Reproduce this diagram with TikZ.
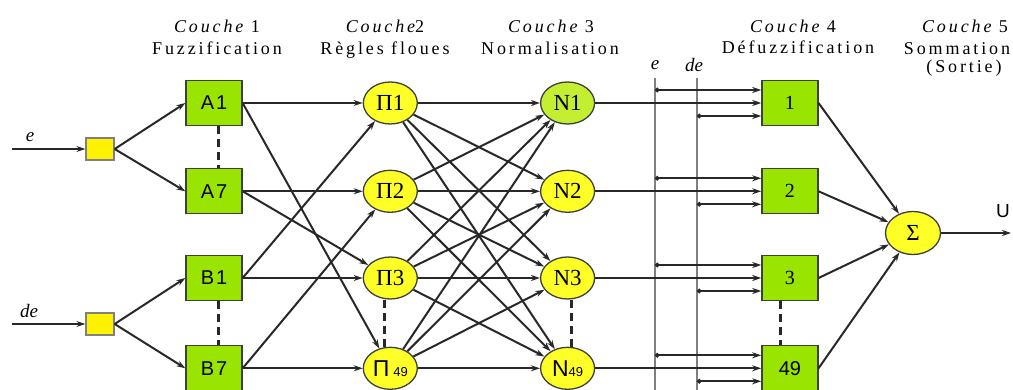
\documentclass[tikz,border=0pt]{standalone}
\usepackage{fontspec}
\setmainfont{Liberation Serif}
\setsansfont{Liberation Sans}
\newfontfamily\headfont{Liberation Serif}[LetterSpace=16]
\newfontfamily\boxfont{Liberation Sans}[LetterSpace=10]
\usetikzlibrary{arrows.meta, positioning, shapes.geometric, calc}

\definecolor{limebox}{RGB}{153,228,0}
\definecolor{rulefill}{RGB}{255,255,40}
\definecolor{normfill}{RGB}{196,238,50}
\definecolor{edgegray}{RGB}{60,65,60}
\definecolor{wiregray}{RGB}{40,40,40}

\begin{document}
\begin{tikzpicture}[
    x=1pt, y=-1pt,
    >={Stealth[length=9pt,width=6pt]},
    wire/.style={->, line width=2pt, draw=wiregray},
    fuzbox/.style={draw=edgegray, line width=1.3pt, fill=limebox,
                   minimum width=56pt, minimum height=45pt, inner sep=0pt,
                   font=\fontsize{20}{22}\boxfont},
    rulenode/.style={ellipse, draw=edgegray, line width=1.3pt, fill=rulefill,
                     minimum width=54pt, minimum height=42pt, inner sep=0pt,
                     font=\fontsize{23}{24}\selectfont},
    inbox/.style={draw=gray, line width=1.3pt, fill=yellow,
                  minimum width=28pt, minimum height=22pt, inner sep=0pt},
    dots/.style={line width=3pt, draw=wiregray, dash pattern=on 8pt off 5pt},
    head/.style={anchor=base, inner sep=0pt, font=\fontsize{18}{21}\headfont},
    lab/.style={inner sep=0pt, font=\fontsize{19}{20}\itshape},
    tap/.style={{Circle[length=4.5pt]}->, line width=2pt, draw=wiregray},
    rail/.style={line width=1.5pt, draw=gray}
  ]
  \useasboundingbox (0,0) rectangle (1013,390);

  % layer titles
  \node[head] (c1) at (217,33) {{\itshape Couche} 1};
  \node[head] (t1) at (217,55) {Fuzzification};
  \node[head] (c2) at (385,33) {{\itshape Couche}2};
  \node[head] (t2) at (385,55) {Règles floues};
  \node[head] (c3) at (551,33) {{\itshape Couche} 3};
  \node[head] (t3) at (550,55) {Normalisation};
  \node[head] (c4) at (793,33) {{\itshape Couche} 4};
  \node[head] (t4) at (798,54) {Défuzzification};
  \node[head] (c5) at (965,33) {{\itshape Couche} 5};
  \node[head] (t5) at (957,55) {Sommation};
  \node[head] (t5b) at (964,73) {(Sortie)};

  % inputs
  \coordinate (ein) at (12,149);
  \coordinate (dein) at (12,324);
  \node[inbox] (qe) at (100,149) {};
  \node[inbox] (qde) at (100,324) {};
  \node[lab] (le) at (30,137) {e};
  \node[lab] (lde) at (29,311) {de};

  % layer 1
  \node[fuzbox] (A1) at (214,103) {A1};
  \node[fuzbox, below=42pt of A1] (A7) {A7};
  \node[fuzbox] (B1) at (214,278) {B1};
  \node[fuzbox, below=44pt of B1] (B7) {B7};

  % layer 2
  \node[rulenode, right=120pt of A1] (P1) {Π1};
  \node[rulenode, right=120pt of A7] (P2) {Π2};
  \node[rulenode, right=120pt of B1] (P3) {Π3};
  \node[rulenode, right=120pt of B7] (P49) {{\sffamily Π}\,{\fontsize{13}{13}\sffamily 49}};

  % layer 3
  \node[rulenode, fill=normfill, right=122pt of P1] (N1) {N1};
  \node[rulenode, right=122pt of P2] (N2) {N2};
  \node[rulenode, right=122pt of P3] (N3) {N3};
  \node[rulenode, right=122pt of P49] (N49) {{\sffamily N}{\fontsize{13}{13}\sffamily 49}};

  % layer 4
  \node[fuzbox, right=166pt of N1, font=\fontsize{20}{22}\rmfamily] (D1) {1};
  \node[fuzbox, right=166pt of N2, font=\fontsize{20}{22}\rmfamily] (D2) {2};
  \node[fuzbox, right=166pt of N3, font=\fontsize{20}{22}\rmfamily] (D3) {3};
  \node[fuzbox, right=166pt of N49, font=\fontsize{20}{22}\sffamily] (D49) {49};

  % layer 5
  \node[rulenode, minimum width=55pt, minimum height=43pt] (S) at (913,233) {Σ};
  \coordinate (uout) at (1011,233);
  \node[inner sep=0pt, font=\fontsize{19}{20}\sffamily] (ulab) at (1003,211) {U};

  % e and de rails
  \coordinate (eTop) at (655,78);
  \coordinate (eBot) at (655,390);
  \coordinate (deTop) at (697,78);
  \coordinate (deBot) at (697,390);
  \draw[rail] (eTop) -- (eBot);
  \draw[rail] (deTop) -- (deBot);
  \node[lab] (le2) at (655,65) {e};
  \node[lab] (lde2) at (694,65) {de};

  % connections
  \draw[wire] (ein) -- (qe);
  \draw[wire] (dein) -- (qde);
  \draw[wire] (qe.east) -- (A1.west);
  \draw[wire] (qe.east) -- (A7.west);
  \draw[wire] (qde.east) -- (B1.west);
  \draw[wire] (qde.east) -- (B7.west);

  \draw[wire] (A1) -- (P1);
  \draw[wire] (A1.east) -- (P49);
  \draw[wire] (A7) -- (P2);
  \draw[wire] (A7.east) -- (P3);
  \draw[wire] (B1) -- (P3);
  \draw[wire] (B1.east) -- (P1);
  \draw[wire] (B7) -- (P49);
  \draw[wire] (B7.east) -- (P2);

  \foreach \i in {1,2,3,49}
    \foreach \j in {1,2,3,49}
      \draw[wire] (P\i) -- (N\j);

  \foreach \i in {1,2,3,49}{
    \draw[wire] (N\i) -- (D\i);
    \draw[tap] ($(eTop |- D\i.west)+(0,-13)$) -- ($(D\i.west)+(0,-13)$);
    \draw[tap] ($(deTop |- D\i.west)+(0,13)$) -- ($(D\i.west)+(0,13)$);
    \draw[wire] (D\i.east) -- (S);
  }
  \draw[wire] (S) -- (uout);

  % dashed "..." links
  \draw[dots] ([xshift=4pt]A1.south) -- ([xshift=4pt]A7.north);
  \draw[dots] ([xshift=4pt]B1.south) -- ([xshift=4pt]B7.north);
  \draw[dots] ([xshift=-6pt]P3.south) -- ([xshift=-6pt]P49.north);
  \draw[dots] ([xshift=4pt]N3.south) -- ([xshift=4pt]N49.north);
  \draw[dots] ([xshift=-9pt]D3.south) -- ([xshift=-9pt]D49.north);
\end{tikzpicture}
\end{document}
